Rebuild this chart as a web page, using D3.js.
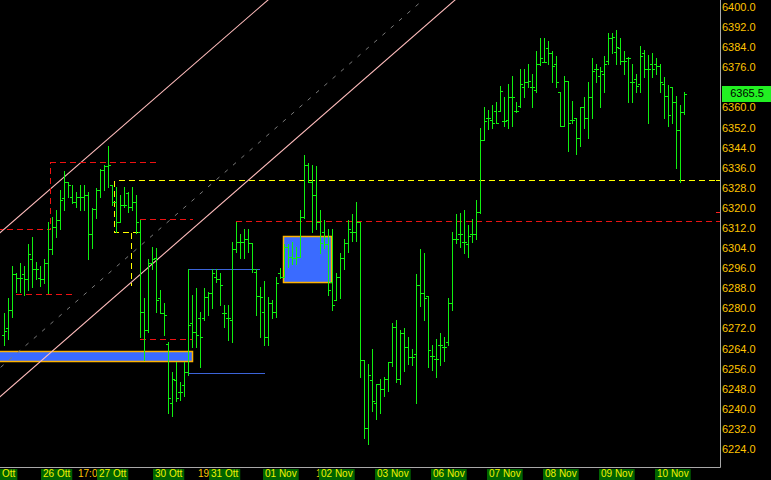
<!DOCTYPE html>
<html><head><meta charset="utf-8">
<script src="https://cdn.jsdelivr.net/npm/d3@7"></script>
<style>html,body{margin:0;padding:0;background:#000;}svg{display:block;}</style>
</head><body>
<svg id="chart" width="771" height="480"></svg>
<script>
// ---- data ----
const opens = [6269.5,6272,6279.5,6293.5,6292,6293.5,6291.5,6299.5,6295.5,6292,
6291.5,6298,6303.5,6312.5,6315,6324,6330.5,6324.5,6322.5,6324.5,
6324.5,6325,6309.5,6319.5,6327,6335,6336.5,6329,6322.5,6314.5,
6321,6326,6320.5,6322.5,6310.5,6278.5,6271.5,6298,6300,6284,
6278,6266,6242.5,6251.5,6246.5,6249.5,6254.5,6274,6270.5,6276,
6276,6284.5,6286,6292.5,6291.5,6278,6276,6275.5,6303.5,6306.5,
6306.5,6307.5,6306,6294.5,6285,6278.5,6268.5,6282,6278.5,6294,
6292.5,6304.5,6300.5,6300,6300.5,6316.5,6337,6330.5,6325,6314.5,
6310.5,6305.5,6290.5,6283.5,6292.5,6300,6306,6310.5,6310.5,6314.5,
6259.5,6232.5,6251.5,6242.5,6250,6248,6252,6258.5,6272.5,6252,
6270,6264.5,6260.5,6262,6289.5,6286,6285,6261,6260,6265.5,
6264.5,6266.5,6282,6307.5,6309.5,6306.5,6305.5,6309.5,6309.5,6318.5,
6347,6356,6355,6358.5,6358.5,6354.5,6355,6364,6358.5,6360.5,
6368,6370,6368,6367,6377.5,6378,6383.5,6381.5,6377.5,6366,
6352.5,6370.5,6355,6356,6348,6360,6356,6364,6375.5,6372.5,
6373.5,6378.5,6387.5,6382,6383.5,6378.5,6379.5,6370,6371.5,6369.5,
6381.5,6375.5,6377.5,6377.5,6376.5,6369.5,6364.5,6368,6362,6351,
6358];
const highs = [6278,6284,6297,6294,6298,6297,6305.5,6308.5,6298.5,6297,
6299.5,6314.5,6316.5,6319,6327,6334.5,6330.5,6329,6326.5,6329,
6329,6326.5,6320,6328,6335.5,6337,6344.5,6329,6328.5,6325,
6328.5,6326.5,6328.5,6325,6315,6284,6299.5,6304.5,6304,6287.5,
6282,6266.5,6254.5,6258.5,6250.5,6258.5,6295.5,6285.5,6288,6278.5,
6288,6286.5,6295.5,6295.5,6294,6281.5,6281.5,6306.5,6314.5,6309.5,
6311.5,6311.5,6306,6295.5,6288.5,6291,6284.5,6283.5,6292.5,6296,
6305.5,6305.5,6306.5,6304.5,6319,6341,6338,6337,6336.5,6319,
6315,6311.5,6311.5,6294,6302,6307.5,6315,6317.5,6322.5,6314.5,
6259.5,6258,6264,6250,6252,6252.5,6258.5,6274,6275.5,6271.5,
6272,6268.5,6264,6293.5,6303.5,6302,6285,6265.5,6268,6270,
6268.5,6284,6310.5,6317.5,6318,6319,6313,6315.5,6323,6352,
6360,6359,6361,6362,6368.5,6364,6369.5,6372.5,6362,6375.5,
6375.5,6377.5,6373.5,6382.5,6387.5,6387.5,6386.5,6382.5,6380.5,6366,
6372.5,6370.5,6362.5,6356,6360,6364,6370,6379.5,6377.5,6376,
6380.5,6389.5,6389.5,6391,6387.5,6382.5,6380,6377.5,6373.5,6384.5,
6383,6381,6381.5,6379.5,6377.5,6372,6369,6368,6364.5,6361,
6366];
const lows = [6265.5,6268,6276.5,6286.5,6286.5,6285.5,6287.5,6288.5,6291.5,6289,
6290,6286,6301.5,6308.5,6311.5,6319,6324.5,6322,6320.5,6319,
6319,6299.5,6304,6316,6324.5,6327,6328.5,6321,6310.5,6314.5,
6320.5,6318.5,6319,6310,6268.5,6259.5,6270.5,6295.5,6278.5,6278,
6269.5,6238.5,6237,6243,6243.5,6245,6253.5,6264.5,6264.5,6256.5,
6275.5,6277.5,6280,6290.5,6281.5,6272.5,6267.5,6266.5,6302.5,6300,
6300,6302.5,6294.5,6277.5,6268.5,6265.5,6265.5,6276,6276.5,6292,
6292.5,6296.5,6297.5,6297.5,6300.5,6316,6330.5,6310.5,6311.5,6302,
6304,6285.5,6279.5,6283.5,6284,6295.5,6302.5,6307,6307,6252.5,
6228.5,6226,6239,6236,6238.5,6245,6247,6257,6250.5,6250,
6255,6258,6257.5,6242.5,6281,6275.5,6256.5,6255.5,6252.5,6257.5,
6259,6265.5,6279.5,6306,6304.5,6302,6300.5,6306.5,6307.5,6318,
6347,6351.5,6352,6354,6358.5,6352.5,6352,6352.5,6358,6360,
6364,6368,6360,6366,6377,6378,6377.5,6370,6368,6352.5,
6352.5,6342.5,6354,6341.5,6344.5,6352,6348,6356,6370,6360,
6366,6377.5,6381.5,6377.5,6377.5,6373.5,6362,6362,6366,6366,
6372,6354,6372,6373.5,6366,6356,6352.5,6354,6336,6330.5,
6357.5];
const closes = [6271,6279.5,6293.5,6292,6292,6291.5,6301.5,6295.5,6295.5,6291.5,
6298,6303.5,6312.5,6315,6323,6330.5,6329,6322.5,6324.5,6324.5,
6325,6309.5,6319.5,6327,6335,6336.5,6337,6322.5,6314.5,6321,
6321,6320.5,6322.5,6314.5,6278.5,6271.5,6298,6299.5,6283.5,6278,
6277.5,6244.5,6252,6244.5,6246.5,6254.5,6273.5,6270.5,6269.5,6268.5,
6284.5,6286,6294,6291.5,6289.5,6278,6276,6303.5,6306.5,6306.5,
6307.5,6306,6295.5,6285,6284.5,6268.5,6282,6278.5,6290,6292.5,
6304.5,6300.5,6300,6300.5,6316.5,6337,6330.5,6325,6314.5,6306,
6305.5,6287.5,6281.5,6292.5,6300,6306,6311.5,6310.5,6314.5,6259.5,
6232.5,6253.5,6243,6250,6248,6252,6258.5,6272.5,6252,6270,
6264.5,6260.5,6260.5,6289.5,6286,6284,6263.5,6261,6260,6265.5,
6264.5,6282,6307.5,6307.5,6309.5,6306.5,6309,6309.5,6318.5,6347,
6354.5,6356,6354,6354,6366.5,6354.5,6364,6364,6358.5,6369.5,
6370,6370.5,6368,6377.5,6379.5,6378,6381.5,6376.5,6370,6352.5,
6370.5,6354,6355,6348,6360,6356,6364,6374.5,6375.5,6374.5,
6377.5,6387.5,6388,6384,6378.5,6378.5,6379.5,6370,6368.5,6380.5,
6375.5,6375.5,6375.5,6376.5,6370,6364.5,6357,6362,6351,6358,
6365.5];

const yTicks = d3.range(6224, 6400.1, 8);
const lastPrice = 6365.5;

const dayLabels = ["Ott","26 Ott","27 Ott","30 Ott","31 Ott","01 Nov","02 Nov","03 Nov","06 Nov","07 Nov","08 Nov","09 Nov","10 Nov"];
const dayStartBars = [-0.25,10,24,38,52,65.5,79.5,93.5,107.5,121.5,135.5,149.5,163.5];
const timeLabels = ["17:0","19:","1"];
const timeStartBars = [18.5,48.5,78];

// overlays (bar index, price)
const channelUpper = [[-1,6310.1],[66,6402.8]];
const channelMiddle = [[-1,6256.3],[104.75,6402.8]];
const channelLower = [[-1,6244.8],[112.75,6402.8]];
const redStepA = [[-2,6311.7],[11.5,6311.7],[11.5,6338.3],[38.25,6338.3]];
const redLineB = [[2.75,6285.8],[16.75,6285.8]];
const redLineC = [[33.75,6315.6],[47,6315.6]];
const redLineD = [[33.75,6267.9],[47,6267.9]];
const redLineE = [[57.75,6314.8],[185,6314.8]];
const yellowStep = [[185,6331.1],[27.5,6331.1],[27.5,6310.5],[34,6310.5]];
const yellowDrop = [[31.75,6310.5],[31.75,6289.4]];
const boxA = {k0:69.75,k1:81.75,top:6308.9,bottom:6290.6};
const boxB = {k0:-2,k1:47,top:6263.1,bottom:6259.1};
const blueLines = [[[45.75,6295.7],[63.75,6295.7]],[[45.75,6254.3],[65,6254.3]]];
const axisMarkers = [{v:6331.1,c:"#ffff00"},{v:6318.3,c:"#ff2020"}];

// ---- drawing ----
const W = 771, H = 480, plotR = 720, plotB = 467;
const svg = d3.select("#chart");
svg.append("rect").attr("width",W).attr("height",H).attr("fill","#000");

const x = d3.scaleLinear().domain([0,170]).range([4,684]);
const y = d3.scaleLinear().domain([6224,6400]).range([449,7]);

svg.append("clipPath").attr("id","plot").append("rect")
  .attr("x",0).attr("y",0).attr("width",plotR).attr("height",plotB);
const g = svg.append("g").attr("clip-path","url(#plot)");

const line = d3.line().x(d=>x(d[0])).y(d=>y(d[1]));
const snapLine = d3.line().x(d=>Math.round(x(d[0]))+0.5).y(d=>Math.round(y(d[1]))+0.5);
function extend(p){
  const [a,b]=p; const s=(b[1]-a[1])/(b[0]-a[0]);
  const k0=-5,k1=200;
  return [[k0,a[1]+s*(k0-a[0])],[k1,a[1]+s*(k1-a[0])]];
}

// boxes
[boxA,boxB].forEach(b=>{
  const x0=Math.round(x(b.k0))+0.5, x1=Math.round(x(b.k1))+0.5;
  const y0=Math.round(y(b.top))+0.5, y1=Math.round(y(b.bottom))+0.5;
  g.append("rect").attr("x",x0).attr("y",y0).attr("width",x1-x0).attr("height",y1-y0)
   .attr("fill","#3a6bff").attr("stroke","#ffb300").attr("stroke-width",1.5);
});

// channel lines
g.append("path").attr("d",line(extend(channelUpper))).attr("stroke","#ffbcbc").attr("fill","none").attr("stroke-width",1.1);
g.append("path").attr("d",line(extend(channelLower))).attr("stroke","#ffbcbc").attr("fill","none").attr("stroke-width",1.1);
g.append("path").attr("d",line(extend(channelMiddle))).attr("stroke","#7a7a7a").attr("fill","none").attr("stroke-width",1).attr("stroke-dasharray","4,7");

// dashed levels
[redStepA,redLineB,redLineC,redLineD,redLineE].forEach(p=>{
  g.append("path").attr("d",snapLine(p)).attr("stroke","#ee1111").attr("fill","none").attr("stroke-width",1).attr("stroke-dasharray","6,4").attr("shape-rendering","crispEdges");
});
[yellowStep,yellowDrop].forEach(p=>{
  g.append("path").attr("d",snapLine(p)).attr("stroke","#ffff00").attr("fill","none").attr("stroke-width",1).attr("stroke-dasharray","6,4").attr("shape-rendering","crispEdges");
});
blueLines.forEach(p=>{
  g.append("path").attr("d",snapLine(p)).attr("stroke","#3c64d8").attr("fill","none").attr("stroke-width",1).attr("shape-rendering","crispEdges");
});

// OHLC bars
const bars = d3.range(opens.length).map(i=>({i,o:opens[i],h:highs[i],l:lows[i],c:closes[i]}));
const px = d=>Math.round(x(d.i));
const bg = g.append("g").attr("fill","#10f010").attr("shape-rendering","crispEdges");
bg.selectAll("rect.v").data(bars).join("rect").attr("class","v")
  .attr("x",px).attr("y",d=>Math.round(y(d.h))).attr("width",1)
  .attr("height",d=>Math.round(y(d.l))-Math.round(y(d.h))+1);
bg.selectAll("rect.o").data(bars).join("rect").attr("class","o")
  .attr("x",d=>px(d)-2).attr("y",d=>Math.round(y(d.o))).attr("width",2).attr("height",1);
bg.selectAll("rect.c").data(bars).join("rect").attr("class","c")
  .attr("x",d=>px(d)+1).attr("y",d=>Math.round(y(d.c))).attr("width",2).attr("height",1);

// frame
svg.append("line").attr("x1",plotR+0.5).attr("x2",plotR+0.5).attr("y1",0).attr("y2",plotB+0.5).attr("stroke","#a8a8a8");
svg.append("line").attr("x1",0).attr("x2",plotR+0.5).attr("y1",plotB+0.5).attr("y2",plotB+0.5).attr("stroke","#a8a8a8");

axisMarkers.forEach(m=>{
  svg.append("rect").attr("x",plotR-4).attr("y",Math.round(y(m.v))).attr("width",4).attr("height",1).attr("fill",m.c);
});

// y axis (the label hidden by the price tag is left out)
const shownTicks = yTicks.filter(v=>Math.abs(v-lastPrice)>4);
const yAxis = d3.axisRight(y).tickValues(shownTicks).tickFormat(d3.format(".1f")).tickSize(0).tickPadding(2);
const ya = svg.append("g").attr("transform",`translate(${plotR},0)`).call(yAxis);
ya.select(".domain").remove();
ya.selectAll("text").attr("fill","#ffc400").style("font-family","'Liberation Sans', Arial, sans-serif").style("font-size","11px");

// last price tag
const ly = y(lastPrice);
svg.append("rect").attr("x",722).attr("y",Math.round(ly)-8).attr("width",49).attr("height",16).attr("fill","#22f022");
svg.append("text").attr("x",747).attr("y",ly).attr("dy","0.35em").attr("text-anchor","middle")
  .attr("fill","#000").style("font-family","'Liberation Sans', Arial, sans-serif").style("font-size","11px").text(d3.format(".1f")(lastPrice));

// x axis: partly hidden time labels, then day boxes
const fontX = "'Liberation Sans', Arial, sans-serif";
timeLabels.forEach((t,i)=>{
  svg.append("text").attr("x",Math.round(x(timeStartBars[i]))).attr("y",477).attr("fill","#ffc400")
    .style("font-family",fontX).style("font-size","10px").text(t);
});
dayLabels.forEach((t,i)=>{
  const gx = svg.append("g").attr("transform",`translate(${Math.max(0,Math.round(x(dayStartBars[i]))-3)},469)`);
  const r = gx.append("rect").attr("x",0).attr("y",0).attr("height",11).attr("fill","#006400");
  const tx = gx.append("text").attr("x",2).attr("y",8).attr("fill","#f2f200")
    .style("font-family",fontX).style("font-size","10px").text(t);
  r.attr("width",tx.node().getComputedTextLength()+4);
});
</script>
</body></html>
